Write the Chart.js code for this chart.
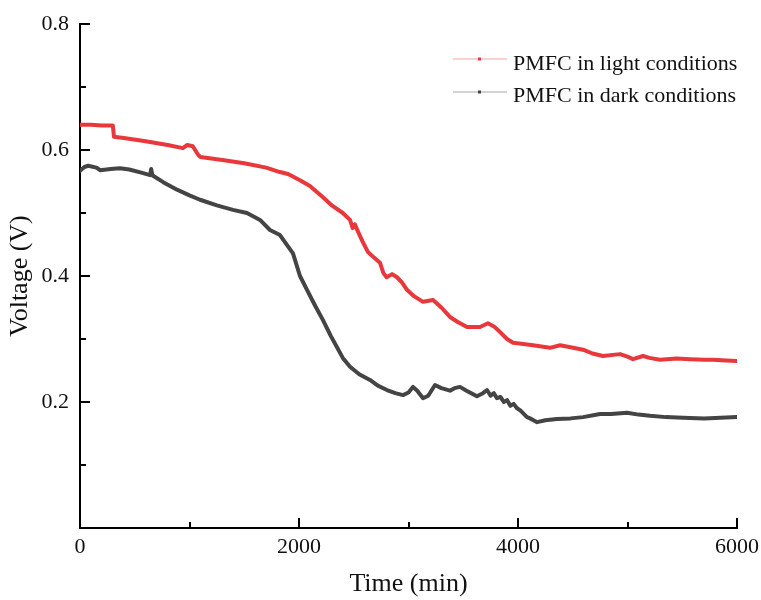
<!DOCTYPE html>
<html>
<head>
<meta charset="utf-8">
<script src="https://cdn.jsdelivr.net/npm/chart.js@4/dist/chart.umd.min.js"></script>
<style>
  html, body { margin: 0; padding: 0; background: #ffffff; }
  #wrap { width: 761px; height: 600px; position: relative; }
</style>
</head>
<body>
<div id="wrap"><canvas id="c"></canvas></div>
<script>
// ---- data ----
const lightTime = [0,100,200,300,310,400,600,800,940,980,1030,1080,1100,1300,1500,1700,1826,1900,2009,2100,2219,2300,2400,2466,2490,2510,2540,2580,2630,2680,2740,2770,2800,2850,2895,2940,2986,3050,3133,3224,3300,3379,3450,3534,3653,3726,3780,3836,3900,3955,4050,4137,4292,4384,4480,4594,4680,4776,4932,5000,5050,5142,5200,5297,5450,5571,5700,5781,5900,6000];
const lightVoltage = [0.640,0.640,0.639,0.639,0.621,0.619,0.614,0.608,0.603,0.608,0.606,0.592,0.589,0.584,0.579,0.572,0.565,0.562,0.552,0.543,0.525,0.512,0.500,0.489,0.476,0.482,0.470,0.455,0.438,0.430,0.421,0.405,0.398,0.403,0.398,0.390,0.378,0.368,0.359,0.362,0.350,0.335,0.327,0.319,0.319,0.325,0.320,0.311,0.300,0.294,0.292,0.290,0.286,0.290,0.287,0.283,0.277,0.273,0.276,0.272,0.268,0.273,0.270,0.267,0.269,0.268,0.267,0.267,0.266,0.265];

const darkTime = [0,40,75,150,183,280,365,450,560,640,650,660,760,886,1000,1096,1250,1397,1525,1644,1735,1826,1945,2009,2073,2150,2219,2290,2347,2400,2466,2550,2648,2720,2803,2880,2950,3000,3041,3080,3133,3180,3242,3300,3379,3420,3470,3530,3625,3680,3717,3750,3780,3808,3840,3870,3900,3930,3960,3991,4019,4082,4110,4174,4250,4356,4480,4594,4749,4850,4996,5100,5206,5350,5507,5700,5850,6000];
const darkVoltage = [0.567,0.573,0.575,0.572,0.568,0.570,0.571,0.569,0.564,0.560,0.570,0.560,0.549,0.537,0.528,0.521,0.512,0.505,0.500,0.489,0.473,0.465,0.436,0.400,0.378,0.352,0.330,0.305,0.287,0.270,0.256,0.244,0.235,0.226,0.219,0.214,0.211,0.215,0.224,0.218,0.206,0.210,0.227,0.222,0.218,0.222,0.224,0.218,0.209,0.214,0.219,0.210,0.214,0.206,0.208,0.200,0.203,0.194,0.197,0.190,0.187,0.176,0.174,0.168,0.171,0.173,0.174,0.176,0.181,0.181,0.183,0.180,0.178,0.176,0.175,0.174,0.175,0.176];

const seriesLabels = ['PMFC in light conditions', 'PMFC in dark conditions'];
const xTickValues = [0, 2000, 4000, 6000];
const xMinorTicks = [1000, 3000, 5000];
const yTickValues = [0.2, 0.4, 0.6, 0.8];
const yMinorTicks = [0.1, 0.3, 0.5, 0.7];
const axisTitles = { x: 'Time (min)', y: 'Voltage (V)' };

const FONT = "'Liberation Serif', 'Times New Roman', serif";
const RED = '#e8383b';
const DARK = '#444444';

function toPoints(xs, ys) { return xs.map((x, i) => ({ x: x, y: ys[i] })); }

// inward ticks + legend drawn through the library's scales
const decorPlugin = {
  id: 'decor',
  afterDraw(chart) {
    const ctx = chart.ctx;
    const xs = chart.scales.x, ys = chart.scales.y;
    const area = chart.chartArea;
    ctx.save();
    ctx.strokeStyle = '#000';
    ctx.lineWidth = 2;
    ctx.lineCap = 'butt';
    yTickValues.forEach(v => {
      const p = Math.round(ys.getPixelForValue(v));
      ctx.beginPath(); ctx.moveTo(area.left, p); ctx.lineTo(area.left + 10, p); ctx.stroke();
    });
    yMinorTicks.forEach(v => {
      const p = Math.round(ys.getPixelForValue(v));
      ctx.beginPath(); ctx.moveTo(area.left, p); ctx.lineTo(area.left + 6, p); ctx.stroke();
    });
    xTickValues.forEach(v => {
      const p = Math.round(xs.getPixelForValue(v));
      ctx.beginPath(); ctx.moveTo(p, area.bottom); ctx.lineTo(p, area.bottom - 10); ctx.stroke();
    });
    xMinorTicks.forEach(v => {
      const p = Math.round(xs.getPixelForValue(v));
      ctx.beginPath(); ctx.moveTo(p, area.bottom); ctx.lineTo(p, area.bottom - 6); ctx.stroke();
    });

    // legend
    const rows = [
      { y: 59, base: 70, line: '#f2a3a4', dot: RED },
      { y: 92, base: 102, line: '#a8a8a8', dot: DARK }
    ];
    chart.data.datasets.forEach((ds, i) => {
      const r = rows[i];
      ctx.strokeStyle = r.line;
      ctx.lineWidth = 1.2;
      ctx.beginPath(); ctx.moveTo(453, r.y); ctx.lineTo(507, r.y); ctx.stroke();
      ctx.fillStyle = r.dot;
      ctx.fillRect(478, r.y - 1.5, 3, 3);
      ctx.fillStyle = '#111';
      ctx.font = '22px ' + FONT;
      ctx.textAlign = 'left';
      ctx.textBaseline = 'alphabetic';
      ctx.fillText(ds.label, 513, r.base);
    });
    ctx.restore();
  }
};

new Chart(document.getElementById('c'), {
  type: 'line',
  data: {
    datasets: [
      {
        label: seriesLabels[0],
        data: toPoints(lightTime, lightVoltage),
        borderColor: RED,
        backgroundColor: RED,
        borderWidth: 4,
        pointRadius: 0,
        tension: 0,
        borderJoinStyle: 'round',
        borderCapStyle: 'round'
      },
      {
        label: seriesLabels[1],
        data: toPoints(darkTime, darkVoltage),
        borderColor: DARK,
        backgroundColor: DARK,
        borderWidth: 4,
        pointRadius: 0,
        tension: 0,
        borderJoinStyle: 'round',
        borderCapStyle: 'round'
      }
    ]
  },
  options: {
    responsive: true,
    maintainAspectRatio: false,
    animation: false,
    devicePixelRatio: 1,
    layout: { padding: { top: 24, right: 24, left: 0, bottom: 0 } },
    plugins: {
      legend: { display: false },
      tooltip: { enabled: false }
    },
    scales: {
      x: {
        type: 'linear',
        min: 0,
        max: 6000,
        afterFit(scale) { scale.height = 72; scale.paddingLeft = 0; scale.paddingRight = 0; },
        afterBuildTicks(scale) { scale.ticks = xTickValues.map(v => ({ value: v })); },
        grid: { display: false, drawTicks: false },
        border: { display: true, color: '#000', width: 2 },
        ticks: {
          color: '#111',
          font: { family: FONT, size: 22 },
          padding: 6,
          maxRotation: 0,
          callback: v => String(v)
        },
        title: {
          display: true,
          text: axisTitles.x,
          color: '#111',
          font: { family: FONT, size: 26 },
          padding: { top: 0, bottom: 0 }
        }
      },
      y: {
        type: 'linear',
        min: 0,
        max: 0.8,
        afterFit(scale) { scale.width = 80; scale.paddingTop = 0; scale.paddingBottom = 0; },
        afterBuildTicks(scale) { scale.ticks = yTickValues.map(v => ({ value: v })); },
        grid: { display: false, drawTicks: false },
        border: { display: true, color: '#000', width: 2 },
        ticks: {
          color: '#111',
          font: { family: FONT, size: 22 },
          padding: 11,
          callback: v => v.toFixed(1)
        },
        title: {
          display: true,
          text: axisTitles.y,
          color: '#111',
          font: { family: FONT, size: 26 },
          padding: { top: 5, bottom: 0 }
        }
      }
    }
  },
  plugins: [decorPlugin]
});
</script>
</body>
</html>
